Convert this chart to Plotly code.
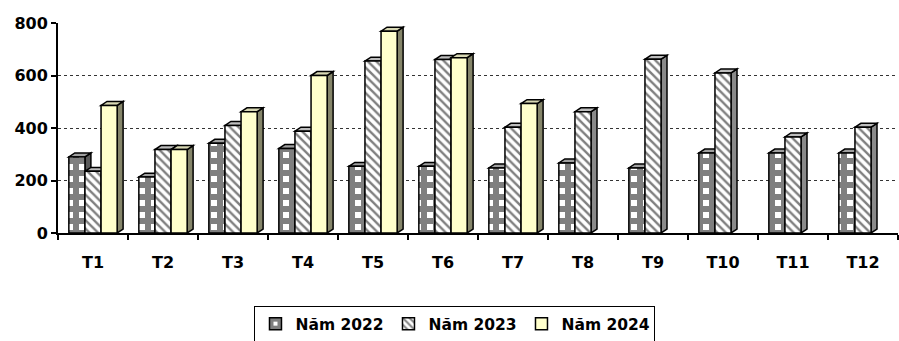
import plotly.graph_objects as go

months = ["T1", "T2", "T3", "T4", "T5", "T6", "T7", "T8", "T9", "T10", "T11", "T12"]
nam_2022 = [290, 213, 342, 322, 254, 254, 248, 267, 248, 305, 305, 305]
nam_2023 = [235, 318, 410, 388, 655, 661, 403, 462, 662, 610, 366, 403]
nam_2024 = [486, 318, 462, 600, 769, 668, 493, None, None, None, None, None]
series_names = ["Năm 2022", "Năm 2023", "Năm 2024"]
y_ticks = [0, 200, 400, 600, 800]

BARGAP = 0.31
W = (1 - BARGAP) / 3
DX = 0.085   # 3D depth (category units)
DY = 15      # 3D depth (value units)

fig = go.Figure()
styles = [
    dict(color="white", pattern=dict(shape="+", size=12, solidity=0.75, fgcolor="black", bgcolor="white", fillmode="overlay")),
    dict(color="white", pattern=dict(shape="\\", size=6, solidity=0.4, fgcolor="black", bgcolor="white", fillmode="overlay")),
    dict(color="#FFFFCC"),
]
side_cols = ["#5A5A5A", "#8A8A8A", "#85856A"]
top_cols = ["#A0A0A0", "#BDBDBD", "#D8D8B4"]

for j, (name, vals) in enumerate(zip(series_names, [nam_2022, nam_2023, nam_2024])):
    fig.add_trace(go.Bar(
        x=months, y=vals, name=name,
        marker=dict(line=dict(color="black", width=1.5), **styles[j]),
    ))
    for i, v in enumerate(vals):
        if v is None:
            continue
        x0 = i - (1 - BARGAP) / 2 + j * W
        x1 = x0 + W
        side = f"M {x1},0 L {x1+DX},{DY} L {x1+DX},{v+DY} L {x1},{v} Z"
        top = f"M {x0},{v} L {x1},{v} L {x1+DX},{v+DY} L {x0+DX},{v+DY} Z"
        for path, col in ((side, side_cols[j]), (top, top_cols[j])):
            fig.add_shape(type="path", path=path, xref="x", yref="y",
                          fillcolor=col, line=dict(color="black", width=1.5),
                          layer="between")

fig.update_layout(
    width=899, height=341,
    margin=dict(l=58, r=1, t=23, b=108, autoexpand=False),
    paper_bgcolor="white", plot_bgcolor="white",
    barmode="group", bargap=BARGAP, bargroupgap=0,
    font=dict(family="DejaVu Sans", size=16, color="black"),
    showlegend=True,
    legend=dict(
        orientation="h", x=0.4726, xanchor="center", y=-0.348, yanchor="top",
        bordercolor="black", borderwidth=1, bgcolor="white",
        font=dict(family="DejaVu Sans", size=15.5, color="black", weight="bold"),
        itemwidth=30, tracegroupgap=0, entrywidth=88, entrywidthmode="pixels",
    ),
    xaxis=dict(
        type="category", tickson="boundaries", ticks="outside", ticklen=5,
        tickwidth=1.5, tickcolor="black",
        showline=True, linecolor="black", linewidth=2,
        showgrid=False, ticklabelstandoff=14,
        tickfont=dict(family="DejaVu Sans", size=16, color="black", weight="bold"),
        range=[-0.5, 11.5],
    ),
    yaxis=dict(
        range=[0, 800], tickvals=y_ticks, ticks="outside", ticklen=5,
        tickwidth=1.5, tickcolor="black",
        showline=True, linecolor="black", linewidth=2,
        showgrid=True, gridcolor="#333333", gridwidth=1, griddash="dot",
        zeroline=False,
        tickfont=dict(family="DejaVu Sans", size=16, color="black", weight="bold"),
    ),
)

fig.write_html("out.html")
